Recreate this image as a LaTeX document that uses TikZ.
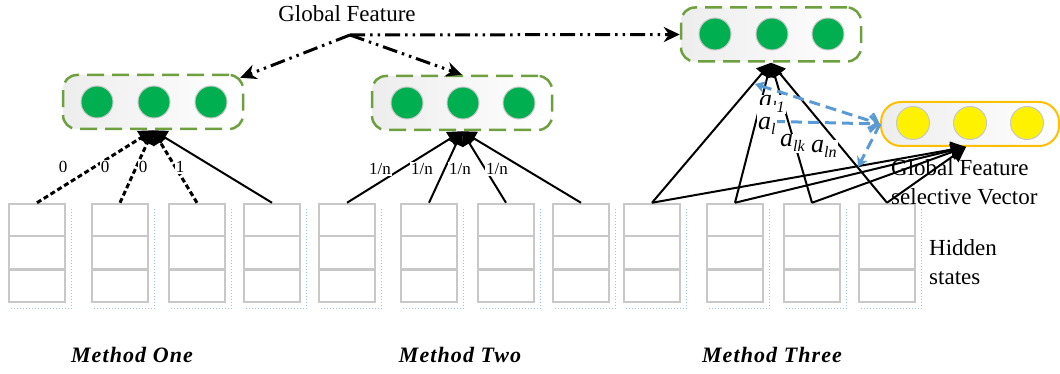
\documentclass[tikz,border=0pt]{standalone}
\usepackage{fontspec}
\setmainfont{Liberation Serif}
\usetikzlibrary{arrows.meta,calc}
\definecolor{ggreen}{HTML}{00B050}
\definecolor{gborder}{HTML}{6FA040}
\definecolor{ybord}{HTML}{FFC000}
\definecolor{bline}{HTML}{5B9BD5}
\definecolor{cellgray}{HTML}{C8C8C8}
\definecolor{shadowblue}{HTML}{9DC3E6}
\newcommand\asub[1]{\textit{a}\raisebox{-5pt}{\fontsize{16}{16}\selectfont\textit{#1}}}
\tikzset{
  vecbox/.style={rectangle, rounded corners=14pt, minimum width=180pt, minimum height=54pt,
    draw=gborder, line width=2.5pt, dash pattern=on 17pt off 8pt, left color=black!7, right color=white},
  ybox/.style={rectangle, rounded corners=20pt, minimum width=178pt, minimum height=44pt,
    draw=ybord, line width=2pt, left color=black!7, right color=white},
  gdot/.style={circle, minimum size=32pt, inner sep=0pt, fill=ggreen, draw=black!22, line width=1pt},
  ydot/.style={circle, minimum size=33pt, inner sep=0pt, fill=yellow, draw=black!22, line width=1pt},
  hcol/.style={rectangle, minimum width=56pt, minimum height=98pt, inner sep=0pt, draw=cellgray, line width=2.5pt},
  cellline/.style={draw=cellgray, line width=2.5pt},
  shadowdots/.style={draw=shadowblue, line width=1pt, dotted},
  tip/.style={-{Triangle[length=14pt,width=15pt]}},
  dotl/.style={line width=3pt, dash pattern=on 5pt off 3pt},
  sol/.style={line width=2pt},
  gfline/.style={line width=3pt, dash pattern=on 15pt off 5pt on 2.5pt off 5pt on 2.5pt off 5pt,
    -{Stealth[length=16pt,width=15pt]}},
  blueline/.style={draw=bline, line width=3pt, dash pattern=on 11pt off 6pt},
  wlabel/.style={fill=white, inner sep=1pt, font=\fontsize{17}{17}\selectfont},
  alabel/.style={fill=white, inner sep=1pt, anchor=base west, font=\fontsize{26}{26}\selectfont},
  txt/.style={font=\fontsize{23}{29}\selectfont, align=left, inner sep=0pt},
  mlabel/.style={font=\fontsize{22}{22}\selectfont\bfseries\itshape\addfontfeature{LetterSpace=5}}
}
\begin{document}
\begin{tikzpicture}[x=1pt,y=-1pt]
\useasboundingbox (0,0) rectangle (1060,374);

% text
\node[txt] (gf) at (347,14) {Global Feature};
\coordinate (gfs) at (350,35);

% vector boxes
\node[vecbox] (b1) at (153,102) {};
\node[vecbox] (b2) at (462,103) {};
\node[vecbox] (b3) at (771,34.5) {};
\node[ybox] (yb) at (970,124) {};
\foreach \n/\x in {1/97,2/154,3/211} \node[gdot] (b1d\n) at (\x,102) {};
\foreach \n/\x in {1/407,2/463,3/519} \node[gdot] (b2d\n) at (\x,103) {};
\foreach \n/\x in {1/715,2/772,3/828} \node[gdot] (b3d\n) at (\x,34) {};
\foreach \n/\x in {1/913,2/970,3/1027} \node[ydot] (ybd\n) at (\x,123) {};

% hidden state columns
\foreach \n/\x in {1/37,2/120,3/197,4/272,5/347,6/429,7/506,8/581,9/652,10/735,11/812,12/887}{
  \node[hcol] (c\n) at (\x,253) {};
  \draw[shadowdots] ([xshift=5pt,yshift=-6pt]c\n.north east) -- ([xshift=5pt,yshift=-5pt]c\n.south east) -- ([xshift=3pt,yshift=-5pt]c\n.south west);
  \draw[cellline] ($(c\n.north west)!1/3!(c\n.south west)$) -- ($(c\n.north east)!1/3!(c\n.south east)$);
  \draw[cellline] ($(c\n.north west)!2/3!(c\n.south west)$) -- ($(c\n.north east)!2/3!(c\n.south east)$);
}

% global feature arrows
\draw[gfline] (gfs) -- ([shift={(-4pt,-4pt)}]b1.north east);
\draw[gfline] (gfs) -- (b2.north);
\draw[gfline] (gfs) -- (b3.west);

% method one
\draw[dotl,tip] (c1.north) -- (b1.south);
\draw[dotl,tip] (c2.north) -- (b1.south);
\draw[dotl,tip] (c3.north) -- (b1.south);
\draw[sol,tip] (c4.north) -- (b1.south);
\node[wlabel] (l11) at (63,167) {0};
\node[wlabel] (l12) at (105,167) {0};
\node[wlabel] (l13) at (143,167) {0};
\node[wlabel] (l14) at (180,167) {1};

% method two
\foreach \n in {5,6,7,8} \draw[sol,tip] (c\n.north) -- (b2.south);
\node[wlabel] (l21) at (380,169) {1/n};
\node[wlabel] (l22) at (422,169) {1/n};
\node[wlabel] (l23) at (460,169) {1/n};
\node[wlabel] (l24) at (497,169) {1/n};

% method three
\foreach \n in {9,10,11,12} \draw[sol,tip] (c\n.north) -- (b3.south);
\foreach \n in {9,10,11,12} \draw[sol,-{Triangle[length=15pt,width=16pt]}] (c\n.north) -- ([xshift=-4pt]yb.south);

% blue dashed arrows
\coordinate (bA) at (755,84);
\coordinate (bB) at (757,121);
\coordinate (bC) at (858,167);
\draw[blueline, {Stealth[length=10pt,width=12pt]}-{Straight Barb[length=8pt,width=16pt]}] (bA) -- (yb.west);
\draw[blueline, -{Straight Barb[length=8pt,width=16pt]}] (bB) -- (yb.west);
\draw[blueline, -{Stealth[length=10pt,width=12pt]}] (yb.west) -- (bC);

% attention labels
\node[alabel] (a1) at (758,108) {\asub{l1}};
\node[alabel, text height=24pt] (a2) at (757,130) {\asub{l}};
\node[alabel] (a3) at (779,147) {\asub{lk}};
\node[alabel] (a4) at (810,153) {\asub{ln}};

% side texts
\node[txt, anchor=west] (gfsv) at (891,182) {Global Feature\\selective Vector};
\node[txt, anchor=west] (hs) at (929,262) {Hidden\\states};

% method labels
\node[mlabel] (m1) at (132,355) {Method One};
\node[mlabel] (m2) at (460,355) {Method Two};
\node[mlabel] (m3) at (772,355) {Method Three};
\end{tikzpicture}
\end{document}
